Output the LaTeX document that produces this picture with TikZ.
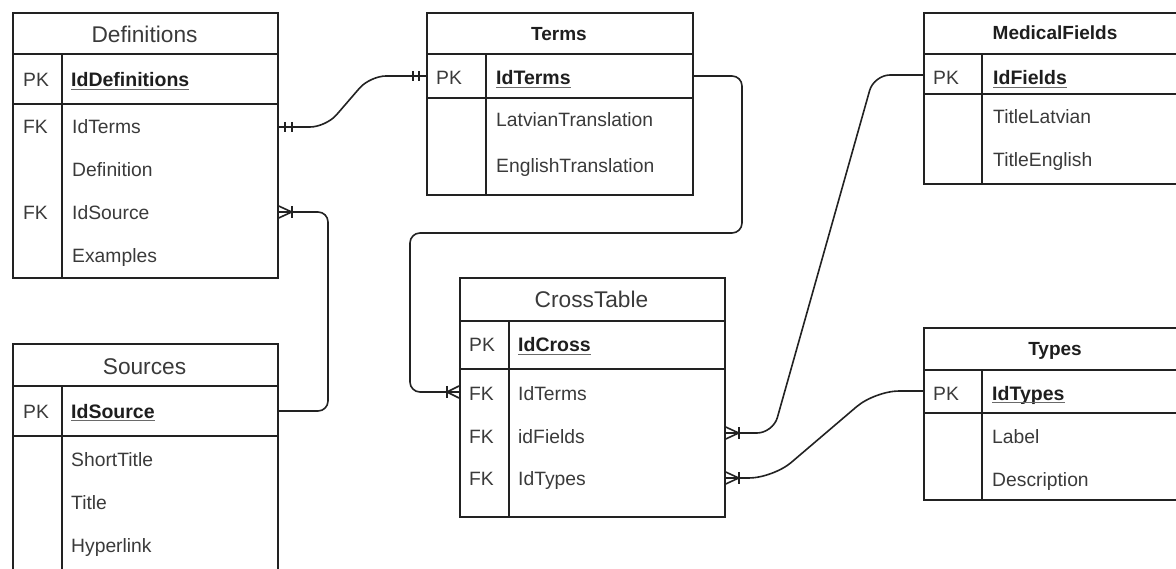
\documentclass[tikz,border=0pt]{standalone}
\usepackage{fontspec}
\setmainfont{Liberation Sans}
\definecolor{linec}{HTML}{222222}
\definecolor{txt}{HTML}{3A3A3A}
\definecolor{txtb}{HTML}{1E1E1E}
\definecolor{ulc}{HTML}{6A6A6A}
\begin{document}
\begin{tikzpicture}[x=1pt,y=-1pt,
  tablebox/.style={draw=linec, line width=1.7pt, inner sep=0pt, anchor=north west},
  rowrule/.style={draw=linec, line width=1.7pt},
  pkrule/.style={draw=linec, line width=2.4pt},
  conn/.style={draw=linec, line width=1.6pt, rounded corners=#1},
  conn/.default=10pt,
  tick/.style={draw=linec, line width=1.6pt},
  fld/.style={inner sep=0pt, anchor=base west, text=txt, font=\fontsize{19.3}{23}\selectfont},
  keyfld/.style={inner sep=0pt, anchor=base west, text=txtb, font=\fontsize{19.5}{23}\selectfont\bfseries},
  ttl/.style={inner sep=0pt, anchor=base, text=txt, font=\fontsize{22.7}{27}\selectfont},
  ttlb/.style={inner sep=0pt, anchor=base, text=txtb, font=\fontsize{19}{23}\selectfont\bfseries},
  uline/.style={draw=ulc, line width=1.4pt},
]
\clip (0,0) rectangle (1176,569);

% table frame: name, left, top, right, header bottom, key row bottom, bottom, divider
\newcommand\erframe[8]{%
  \node[tablebox, minimum width={(#4-#2)*1pt}, minimum height={(#7-#3)*1pt}] (#1) at (#2,#3) {};
  \draw[rowrule] (#2,#5) -- (#4,#5);
  \draw[pkrule] (#2,#6) -- (#4,#6);
  \draw[rowrule] (#8,#5) -- (#8,#7);
}
\newcommand\keyline[1]{\draw[uline] ([yshift=-2.6pt]#1.base west) -- ([yshift=-2.6pt]#1.base east);}

% ---------- Definitions ----------
\erframe{def}{12}{12}{277}{54}{104}{277}{62}
\node[ttl] (defT) at (144.5,43) {Definitions};
\node[fld] (defPK) at (23,87) {PK};
\node[keyfld] (defId) at (71,87) {IdDefinitions}; \keyline{defId}
\node[fld] (defFK1) at (23,134) {FK};
\node[fld] (defTerms) at (72,134) {IdTerms};
\node[fld] (defDef) at (72,177) {Definition};
\node[fld] (defFK2) at (23,220) {FK};
\node[fld] (defSrc) at (72,220) {IdSource};
\node[fld] (defEx) at (72,263) {Examples};

% ---------- Terms ----------
\erframe{terms}{426}{12}{692}{54}{98}{194}{486}
\node[ttlb] (termsT) at (559,41) {Terms};
\node[fld] (termsPK) at (436,85) {PK};
\node[keyfld] (termsId) at (496,85) {IdTerms}; \keyline{termsId}
\node[fld] (termsLv) at (496,127) {LatvianTranslation};
\node[fld] (termsEn) at (496,173) {EnglishTranslation};

% ---------- MedicalFields ----------
\erframe{med}{923}{12}{1187}{54}{94}{183}{982}
\node[ttlb] (medT) at (1055,40) {MedicalFields};
\node[fld] (medPK) at (933,85) {PK};
\node[keyfld] (medId) at (993,85) {IdFields}; \keyline{medId}
\node[fld] (medLv) at (993,124) {TitleLatvian};
\node[fld] (medEn) at (993,167) {TitleEnglish};

% ---------- Sources ----------
\erframe{src}{12}{343}{277}{386}{436}{600}{62}
\node[ttl] (srcT) at (144.5,374) {Sources};
\node[fld] (srcPK) at (23,418) {PK};
\node[keyfld] (srcId) at (71,418) {IdSource}; \keyline{srcId}
\node[fld] (srcShort) at (71,466) {ShortTitle};
\node[fld] (srcTitle) at (71,509) {Title};
\node[fld] (srcLink) at (71,552) {Hyperlink};

% ---------- CrossTable ----------
\erframe{cross}{459}{277}{724}{321}{369}{516}{509}
\node[ttl] (crossT) at (591.5,308) {CrossTable};
\node[fld] (crossPK) at (469,352) {PK};
\node[keyfld] (crossId) at (518,352) {IdCross}; \keyline{crossId}
\node[fld] (crossFK1) at (469,400) {FK};
\node[fld] (crossTerms) at (518,400) {IdTerms};
\node[fld] (crossFK2) at (469,443) {FK};
\node[fld] (crossFields) at (518,443) {idFields};
\node[fld] (crossFK3) at (469,485) {FK};
\node[fld] (crossTypes) at (518,485) {IdTypes};

% ---------- Types ----------
\erframe{types}{923}{327}{1187}{370}{413}{499}{982}
\node[ttlb] (typesT) at (1055,356) {Types};
\node[fld] (typesPK) at (933,400) {PK};
\node[keyfld] (typesId) at (992,400) {IdTypes}; \keyline{typesId}
\node[fld] (typesLabel) at (992,443) {Label};
\node[fld] (typesDesc) at (992,486) {Description};

% ---------- attachment points ----------
\coordinate (aDefTerms) at (def.east |- 0,127);
\coordinate (aTermsPKl) at (terms.west |- 0,76);
\coordinate (aTermsPKr) at (terms.east |- 0,76);
\coordinate (aDefSrc) at (def.east |- 0,212);
\coordinate (aSrcPK) at (src.east |- 0,411);
\coordinate (aCrossTerms) at (cross.west |- 0,392);
\coordinate (aCrossFields) at (cross.east |- 0,433);
\coordinate (aCrossTypes) at (cross.east |- 0,478);
\coordinate (aMedPK) at (med.west |- 0,75);
\coordinate (aTypesPK) at (types.west |- 0,391);

% ---------- relations ----------
\draw[conn=16pt] (aDefTerms) -- (326,127) -- (370,76) -- (aTermsPKl);
\draw[conn] (aDefSrc) -- (328,212) -- (328,411) -- (aSrcPK);
\draw[conn] (aTermsPKr) -- (742,76) -- (742,233) -- (410,233) -- (410,392) -- (aCrossTerms);
\draw[conn=16pt] (aCrossFields) -- (773,433) -- (874,75) -- (aMedPK);
\draw[conn=24pt] (aCrossTypes) -- (773,478) -- (875,391) -- (aTypesPK);

% mandatory one, both ends
\draw[tick] ([xshift=6pt]aDefTerms) ++(0,-5) -- ++(0,10);
\draw[tick] ([xshift=13pt]aDefTerms) ++(0,-5) -- ++(0,10);
\draw[tick] ([xshift=-13pt]aTermsPKl) ++(0,-5) -- ++(0,10);
\draw[tick] ([xshift=-7pt]aTermsPKl) ++(0,-5) -- ++(0,10);

% one-to-many crow's feet
\draw[tick] ([yshift=6pt]aDefSrc) -- ([xshift=13pt]aDefSrc) -- ([yshift=-6pt]aDefSrc);
\draw[tick] ([xshift=13pt]aDefSrc) ++(0,-6) -- ++(0,12);

\draw[tick] ([yshift=6pt]aCrossTerms) -- ([xshift=-12pt]aCrossTerms) -- ([yshift=-6pt]aCrossTerms);
\draw[tick] ([xshift=-12pt]aCrossTerms) ++(0,-6) -- ++(0,12);

\draw[tick] ([yshift=6pt]aCrossFields) -- ([xshift=13pt]aCrossFields) -- ([yshift=-6pt]aCrossFields);
\draw[tick] ([xshift=13pt]aCrossFields) ++(0,-6) -- ++(0,12);

\draw[tick] ([yshift=6pt]aCrossTypes) -- ([xshift=13pt]aCrossTypes) -- ([yshift=-6pt]aCrossTypes);
\draw[tick] ([xshift=13pt]aCrossTypes) ++(0,-6) -- ++(0,12);
\end{tikzpicture}
\end{document}
